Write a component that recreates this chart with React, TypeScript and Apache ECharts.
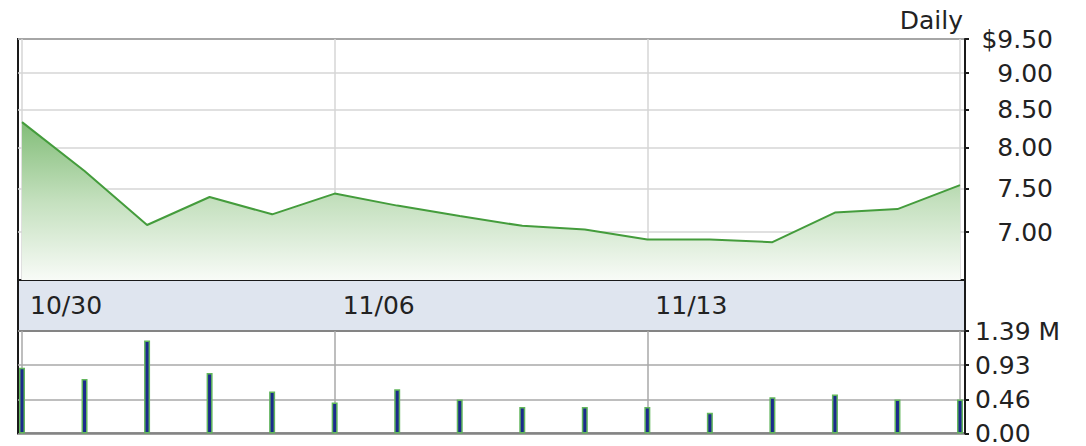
import React, { useEffect, useRef } from 'react';
import * as echarts from 'echarts';

const dates = ['10/30', '10/31', '11/01', '11/02', '11/03', '11/06', '11/07', '11/08', '11/09', '11/10', '11/13', '11/14', '11/15', '11/16', '11/17', '11/20'];
const prices = [8.33, 7.71, 7.08, 7.40, 7.20, 7.44, 7.30, 7.18, 7.07, 7.03, 6.92, 6.92, 6.89, 7.22, 7.26, 7.54];
const volumes = [0.89, 0.74, 1.26, 0.82, 0.57, 0.42, 0.60, 0.46, 0.36, 0.36, 0.36, 0.28, 0.49, 0.53, 0.46, 0.46];
const priceTicks = [9.5, 9.0, 8.5, 8.0, 7.5, 7.0];
const dateLabelIdx = [0, 5, 10];
const vGridIdx = [0, 5, 10, 15];
const priceMin = 6.49;
const priceMax = 9.5;
const volMax = 1.39;

const FONT = 'DejaVu Sans';
const TXT = '#222';

export default function App() {
  const ref = useRef<HTMLDivElement>(null);
  useEffect(() => {
    if (!ref.current) return;
    const chart = echarts.init(ref.current, null, { renderer: 'svg' });
    const xMin = -0.064;
    const xMax = 15.08;
    const ln = (v: number) => Math.log(v);
    const axisLine = { show: true, onZero: false, lineStyle: { color: '#1a1a1a', width: 2 } };
    const option: any = {
      animation: false,
      backgroundColor: '#fff',
      title: {
        text: 'Daily',
        right: 118,
        top: 3,
        textStyle: { fontFamily: FONT, fontSize: 25, fontWeight: 'normal', color: TXT },
      },
      graphic: [
        {
          type: 'rect',
          z: -10,
          shape: { x: 18, y: 280, width: 947, height: 51 },
          style: { fill: '#dfe5ef', stroke: '#1a1a1a', lineWidth: 2 },
        },
      ],
      grid: [
        { left: 18, right: 121, top: 39, height: 241, show: true, backgroundColor: '#fff', borderColor: '#1a1a1a', borderWidth: 2 },
        { left: 18, right: 121, top: 331, height: 105, show: true, backgroundColor: '#fff', borderColor: '#1a1a1a', borderWidth: 2 },
      ],
      xAxis: [
        {
          type: 'value', gridIndex: 0, min: xMin, max: xMax,
          axisLine: { show: false, onZero: false },
          axisTick: { show: false, customValues: vGridIdx },
          splitLine: { show: true, lineStyle: { color: '#d6d6d6', width: 1.5 } },
          axisLabel: {
            show: true,
            customValues: dateLabelIdx,
            formatter: (v: number) => dates[Math.round(v)] ?? '',
            align: 'left',
            margin: 13,
            padding: [0, 0, 0, 8],
            fontFamily: FONT, fontSize: 25, color: TXT,
          },
        },
        {
          type: 'value', gridIndex: 1, min: xMin, max: xMax,
          axisLine: { show: false, onZero: false },
          axisTick: { show: false, customValues: vGridIdx },
          splitLine: { show: true, lineStyle: { color: '#a8a8a8', width: 1.5 } },
          axisLabel: { show: false },
        },
      ],
      yAxis: [
        {
          type: 'value', gridIndex: 0, position: 'right',
          min: ln(priceMin), max: ln(priceMax),
          axisLine,
          axisTick: { show: true, customValues: priceTicks.map(ln), length: 4, lineStyle: { color: '#1a1a1a', width: 2 } },
          splitLine: { show: true, lineStyle: { color: '#d6d6d6', width: 1.5 } },
          axisLabel: {
            customValues: priceTicks.map(ln),
            formatter: (v: number) => {
              const p = Math.exp(v);
              return (p > 9.4 ? '$' : '') + p.toFixed(2);
            },
            align: 'right',
            margin: 88,
            fontFamily: FONT, fontSize: 25, color: TXT,
          },
        },
        {
          type: 'value', gridIndex: 1, position: 'right',
          min: 0, max: volMax, interval: volMax / 3,
          axisLine,
          axisTick: { show: true, length: 4, lineStyle: { color: '#1a1a1a', width: 2 } },
          splitLine: { show: true, lineStyle: { color: '#a8a8a8', width: 1.5 } },
          axisLabel: {
            formatter: (v: number) => (v > volMax - 0.01 ? volMax.toFixed(2) + ' M' : v.toFixed(2)),
            align: 'left',
            margin: 10,
            fontFamily: FONT, fontSize: 25, color: TXT,
          },
        },
      ],
      series: [
        {
          type: 'line',
          xAxisIndex: 0, yAxisIndex: 0,
          data: prices.map((p, i) => [i, ln(p)]),
          symbol: 'none',
          lineStyle: { color: '#449c3c', width: 2 },
          areaStyle: {
            origin: 'start',
            color: new echarts.graphic.LinearGradient(0, 0, 0, 1, [
              { offset: 0, color: '#82bd78' },
              { offset: 0.5, color: '#c4e0be' },
              { offset: 1, color: '#f8fbf7' },
            ]),
            opacity: 1,
          },
        },
        {
          type: 'bar',
          xAxisIndex: 1, yAxisIndex: 1,
          data: volumes.map((v, i) => [i, v]),
          barWidth: 6,
          itemStyle: { color: '#1b2a8c', borderColor: '#62b65c', borderWidth: 1.5 },
        },
      ],
    };
    chart.setOption(option);
    return () => chart.dispose();
  }, []);
  return (
    <div
      ref={ref}
      style={{ position: 'fixed', left: 0, top: 0, width: 1086, height: 446, background: '#fff' }}
    />
  );
}
